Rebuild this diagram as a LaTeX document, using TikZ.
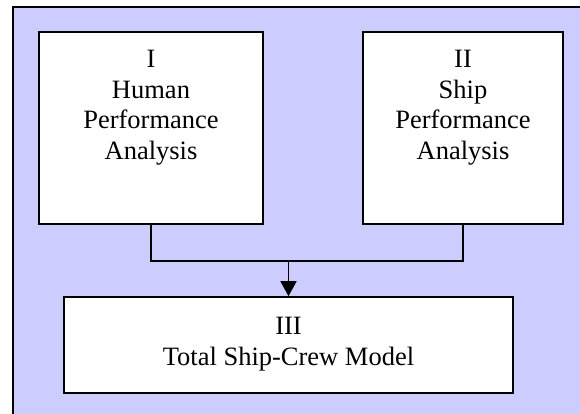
\documentclass[tikz,border=0pt]{standalone}
\usepackage{fontspec}
\setmainfont{Liberation Serif}
\usetikzlibrary{arrows.meta,positioning}
\definecolor{lav}{RGB}{204,204,255}
\tikzset{ box/.style = { rectangle
                       , draw
                       , line width = 1.6pt
                       , fill       = white
                       , inner sep  = 0pt
                       },
          lbl/.style = { align     = center
                       , inner sep = 0pt
                       , font      = \fontsize{26.5}{30.5}\selectfont
                       },
          wire/.style = { line width = 1.5pt
                        }
        }

\begin{document}
\begin{tikzpicture}[x=1pt, y=-1pt]
    \useasboundingbox (0,0) rectangle (580,414);
    \clip (0,0) rectangle (580,414);
    % background panel
    \draw[line width=1.5pt, fill=lav] (13,7) rectangle (600,440);
    % the three boxes
    \node[box, minimum width=224pt, minimum height=192pt] (hpa) at (151,128) {};
    \node[box, minimum width=200pt, minimum height=192pt] (spa) at (463,128) {};
    \node[box, minimum width=449pt, minimum height=96pt]  (tsc) at (288.5,345) {};
    \node[lbl, below=19pt of hpa.north] (hpatxt) {I\\Human\\Performance\\Analysis};
    \node[lbl, below=19pt of spa.north] (spatxt) {II\\Ship\\Performance\\Analysis};
    \node[lbl, below=21pt of tsc.north] (tsctxt) {III\\Total Ship-Crew Model};
    % connectors
    \coordinate (join) at (288.5,261);
    \draw[wire] (hpa.south) |- (join) -| (spa.south);
    \draw[wire, -{Triangle[width=16pt, length=15pt]}] (join) -- (tsc.north);
\end{tikzpicture}
\end{document}
